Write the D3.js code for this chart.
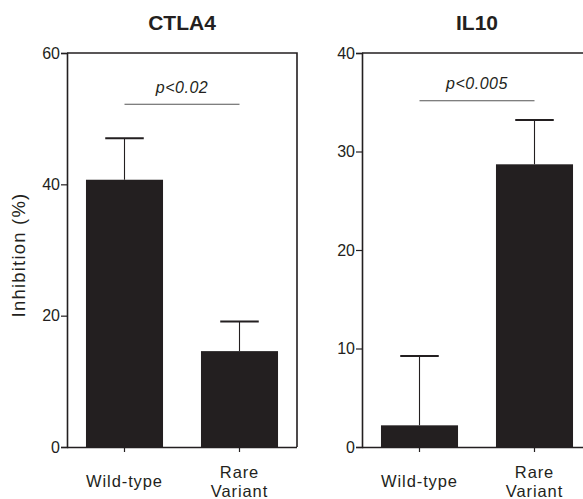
<!DOCTYPE html>
<html>
<head>
<meta charset="utf-8">
<script src="https://cdn.jsdelivr.net/npm/d3@7"></script>
<style>
  html, body { margin: 0; padding: 0; background: #fff; }
  svg { display: block; }
  text { font-family: Arial, "Liberation Sans", Helvetica, sans-serif; fill: #231f20; }
</style>
</head>
<body>
<svg id="chart" width="583" height="499"></svg>
<script>
// Groups shown on the x axis of both panels
const categories = ["Wild-type", "Rare Variant"];

// CTLA4 inhibition (%): mean and upper error (SEM)
const ctla4Means = [40.7, 14.6];
const ctla4Errors = [6.3, 4.5];
const ctla4Ticks = [0, 20, 40, 60];
const ctla4Max = 60;
const ctla4P = "p<0.02";
const ctla4Bracket = 52.2;

// IL10 inhibition (%): mean and upper error (SEM)
const il10Means = [2.2, 28.7];
const il10Errors = [7.05, 4.5];
const il10Ticks = [0, 10, 20, 30, 40];
const il10Max = 40;
const il10P = "p<0.005";
const il10Bracket = 35.15;

const ink = "#231f20";
const svg = d3.select("#chart");

const plotTop = 53, plotBottom = 447;

function panel(title, means, errors, ticks, yMax, pText, bracketY, x0) {
  const width = 230;
  const g = svg.append("g");
  const x = d3.scaleBand().domain(categories).range([x0, x0 + width])
    .paddingInner(0.33).paddingOuter(0.165);
  const y = d3.scaleLinear().domain([0, yMax]).range([plotBottom, plotTop]);
  const rows = categories.map((c, i) => ({ c, m: means[i], e: errors[i] }));

  // frame: top and right edges
  g.append("path")
    .attr("d", `M${x0},${y(yMax)}H${x0 + width}V${y(0)}`)
    .attr("fill", "none").attr("stroke", ink).attr("stroke-width", 1.6);

  // bars
  g.selectAll("rect.bar").data(rows).join("rect")
    .attr("class", "bar")
    .attr("x", d => x(d.c))
    .attr("width", x.bandwidth())
    .attr("y", d => y(d.m))
    .attr("height", d => y(0) - y(d.m))
    .attr("fill", ink);

  // upper error bars
  const cx = d => x(d.c) + x.bandwidth() / 2;
  g.selectAll("line.stem").data(rows).join("line")
    .attr("class", "stem")
    .attr("x1", cx).attr("x2", cx)
    .attr("y1", d => y(d.m)).attr("y2", d => y(d.m + d.e))
    .attr("stroke", ink).attr("stroke-width", 1.1);
  g.selectAll("line.cap").data(rows).join("line")
    .attr("class", "cap")
    .attr("x1", d => cx(d) - x.bandwidth() / 4)
    .attr("x2", d => cx(d) + x.bandwidth() / 4)
    .attr("y1", d => y(d.m + d.e)).attr("y2", d => y(d.m + d.e))
    .attr("stroke", ink).attr("stroke-width", 2);

  // y axis
  const ya = g.append("g").attr("transform", `translate(${x0},0)`)
    .call(d3.axisLeft(y).tickValues(ticks).tickSize(6).tickPadding(1).tickFormat(d3.format("d")));
  ya.select(".domain").attr("stroke", ink).attr("stroke-width", 1.6);
  ya.selectAll(".tick line").attr("stroke", ink).attr("stroke-width", 1.2);
  ya.selectAll(".tick text").attr("fill", ink)
    .style("font-size", "16px")
    .style("font-family", "Arial, 'Liberation Sans', sans-serif");

  // x axis
  const xa = g.append("g").attr("transform", `translate(0,${plotBottom})`)
    .call(d3.axisBottom(x).tickSize(5).tickFormat(""));
  xa.select(".domain").attr("d", `M${x0},0.5H${x0 + width}`)
    .attr("stroke", ink).attr("stroke-width", 1.6);
  xa.selectAll(".tick line").attr("stroke", ink).attr("stroke-width", 1.2);

  // category labels (split onto lines)
  rows.forEach(d => {
    const words = d.c.split(" ");
    const t = g.append("text")
      .attr("x", cx(d)).attr("text-anchor", "middle")
      .style("font-size", "16.5px").attr("letter-spacing", 0.9);
    if (words.length === 1) {
      t.attr("y", 487).text(d.c);
    } else {
      words.forEach((w, i) => {
        t.append("tspan").attr("x", cx(d)).attr("y", 478 + i * 19).text(w);
      });
    }
  });

  // panel title
  g.append("text")
    .attr("x", x0 + width / 2).attr("y", 30)
    .attr("text-anchor", "middle")
    .style("font-size", "21px").attr("font-weight", "bold")
    .text(title);

  // significance bracket
  const bx1 = cx(rows[0]), bx2 = cx(rows[1]);
  g.append("line")
    .attr("x1", bx1).attr("x2", bx2)
    .attr("y1", y(bracketY)).attr("y2", y(bracketY))
    .attr("stroke", "#555").attr("stroke-width", 1.1);
  g.append("text")
    .attr("x", (bx1 + bx2) / 2).attr("y", y(bracketY) - 11.5)
    .attr("text-anchor", "middle")
    .style("font-size", "16px").attr("font-style", "italic")
    .attr("letter-spacing", 0.5)
    .text(pText);
}

panel("CTLA4", ctla4Means, ctla4Errors, ctla4Ticks, ctla4Max, ctla4P, ctla4Bracket, 67);
panel("IL10", il10Means, il10Errors, il10Ticks, il10Max, il10P, il10Bracket, 362);

// shared y-axis title
svg.append("text")
  .attr("transform", "translate(25,255) rotate(-90)")
  .attr("text-anchor", "middle")
  .style("font-size", "18.5px").attr("letter-spacing", 1.2)
  .text("Inhibition (%)");
</script>
</body>
</html>
